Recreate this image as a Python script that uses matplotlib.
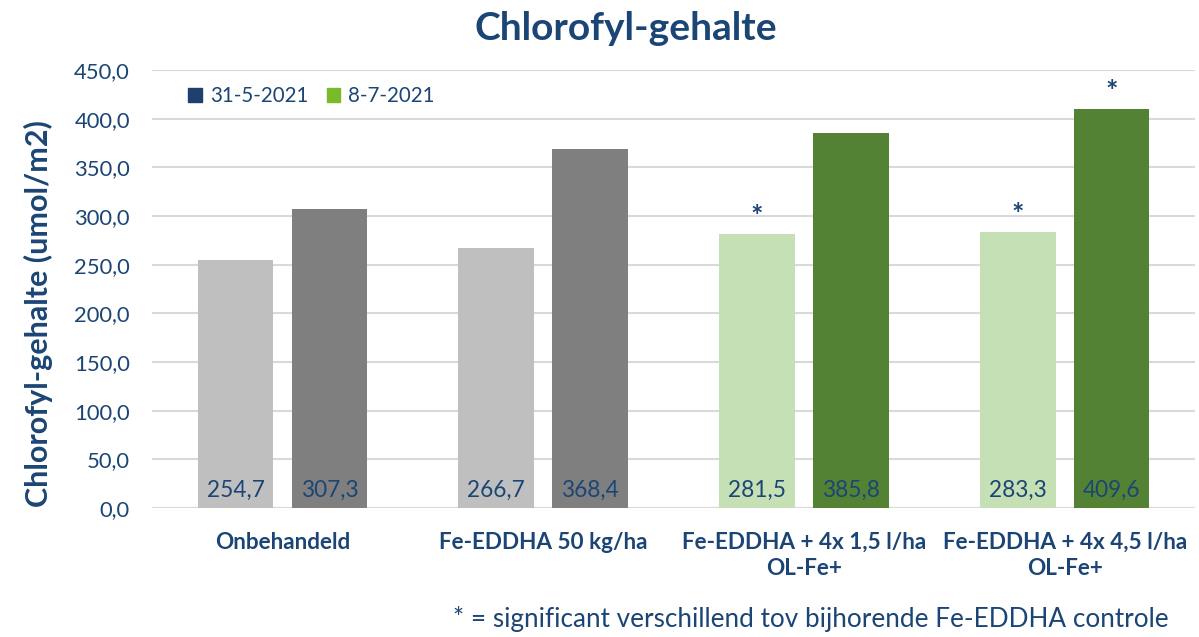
import matplotlib
matplotlib.use("Agg")
import matplotlib.pyplot as plt
from matplotlib.patches import Patch
import numpy as np

plt.rcParams['font.family'] = ['Lato', 'DejaVu Sans']

categories = ["Onbehandeld", "Fe-EDDHA 50 kg/ha", "Fe-EDDHA + 4x 1,5 l/ha\nOL-Fe+", "Fe-EDDHA + 4x 4,5 l/ha\nOL-Fe+"]
series_names = ["31-5-2021", "8-7-2021"]
values_0531 = [254.7, 266.7, 281.5, 283.3]
values_0807 = [307.3, 368.4, 385.8, 409.6]
signif_0531 = [False, False, True, True]
signif_0807 = [False, False, False, True]

TXT = '#1B4574'
colors_0531 = ['#BFBFBF', '#BFBFBF', '#C5E0B4', '#C5E0B4']
colors_0807 = ['#7F7F7F', '#7F7F7F', '#548235', '#548235']
legend_colors = ['#1F3F6E', '#7AB929']

fig = plt.figure(figsize=(11.99, 6.37), dpi=100)
ax = fig.add_axes([0.1268, 0.2025, 0.8699, 0.6875])

x = np.arange(len(categories))
w = 0.29
off = 0.18
b1 = ax.bar(x - off, values_0531, w, color=colors_0531, zorder=2)
b2 = ax.bar(x + off, values_0807, w, color=colors_0807, zorder=2)

def fmt(v):
    return f"{v:.1f}".replace('.', ',')

for bars, vals, sig in [(b1, values_0531, signif_0531), (b2, values_0807, signif_0807)]:
    for b, v, s in zip(bars, vals, sig):
        cx = b.get_x() + b.get_width() / 2
        ax.annotate(fmt(v), (cx, 0), xytext=(0, 5), textcoords='offset points',
                    ha='center', va='bottom', fontsize=16.3, color=TXT, zorder=3)
        if s:
            ax.annotate('*', (cx, v), xytext=(0, 3), textcoords='offset points',
                        ha='center', va='bottom', fontsize=21, fontweight='bold', color=TXT)

ax.set_xlim(-0.5, len(categories) - 0.5)
ax.set_ylim(0, 450)
ax.set_yticks(np.arange(0, 451, 50))
ax.set_yticklabels([fmt(t) for t in np.arange(0, 451, 50)])
ax.yaxis.grid(True, color='#D9D9D9', linewidth=1.5, zorder=0)
ax.set_axisbelow(True)
for s in ax.spines.values():
    s.set_visible(False)
ax.tick_params(axis='y', length=0, labelsize=15.8, labelcolor=TXT, pad=16)
ax.tick_params(axis='x', length=0, labelsize=16.2, labelcolor=TXT, pad=17)
ax.set_xticks(x)
ax.set_xticklabels(categories, fontweight='bold', linespacing=1.3)
ax.axhline(0, color='#D9D9D9', linewidth=1.5, zorder=1)

ax.set_ylabel("Chlorofyl-gehalte (umol/m2)", fontsize=22, fontweight='bold', color=TXT, labelpad=6)
ax.yaxis.set_label_coords(-0.095, 0.443)
fig.text(0.522, 0.955, "Chlorofyl-gehalte", ha='center', va='center', fontsize=28, fontweight='bold', color=TXT)

handles = [Patch(color=c) for c in legend_colors]
leg = ax.legend(handles, series_names, loc='upper left', bbox_to_anchor=(0.017, 1.005), ncol=2, frameon=False,
                fontsize=14.8, handlelength=0.65, handleheight=0.65, handletextpad=0.4, columnspacing=0.9)
for t in leg.get_texts():
    t.set_color(TXT)

fig.text(0.975, 0.028, "* = significant verschillend tov bijhorende Fe-EDDHA controle", ha='right', va='center',
         fontsize=18.8, color=TXT)

fig.savefig("out.png", dpi=100)
